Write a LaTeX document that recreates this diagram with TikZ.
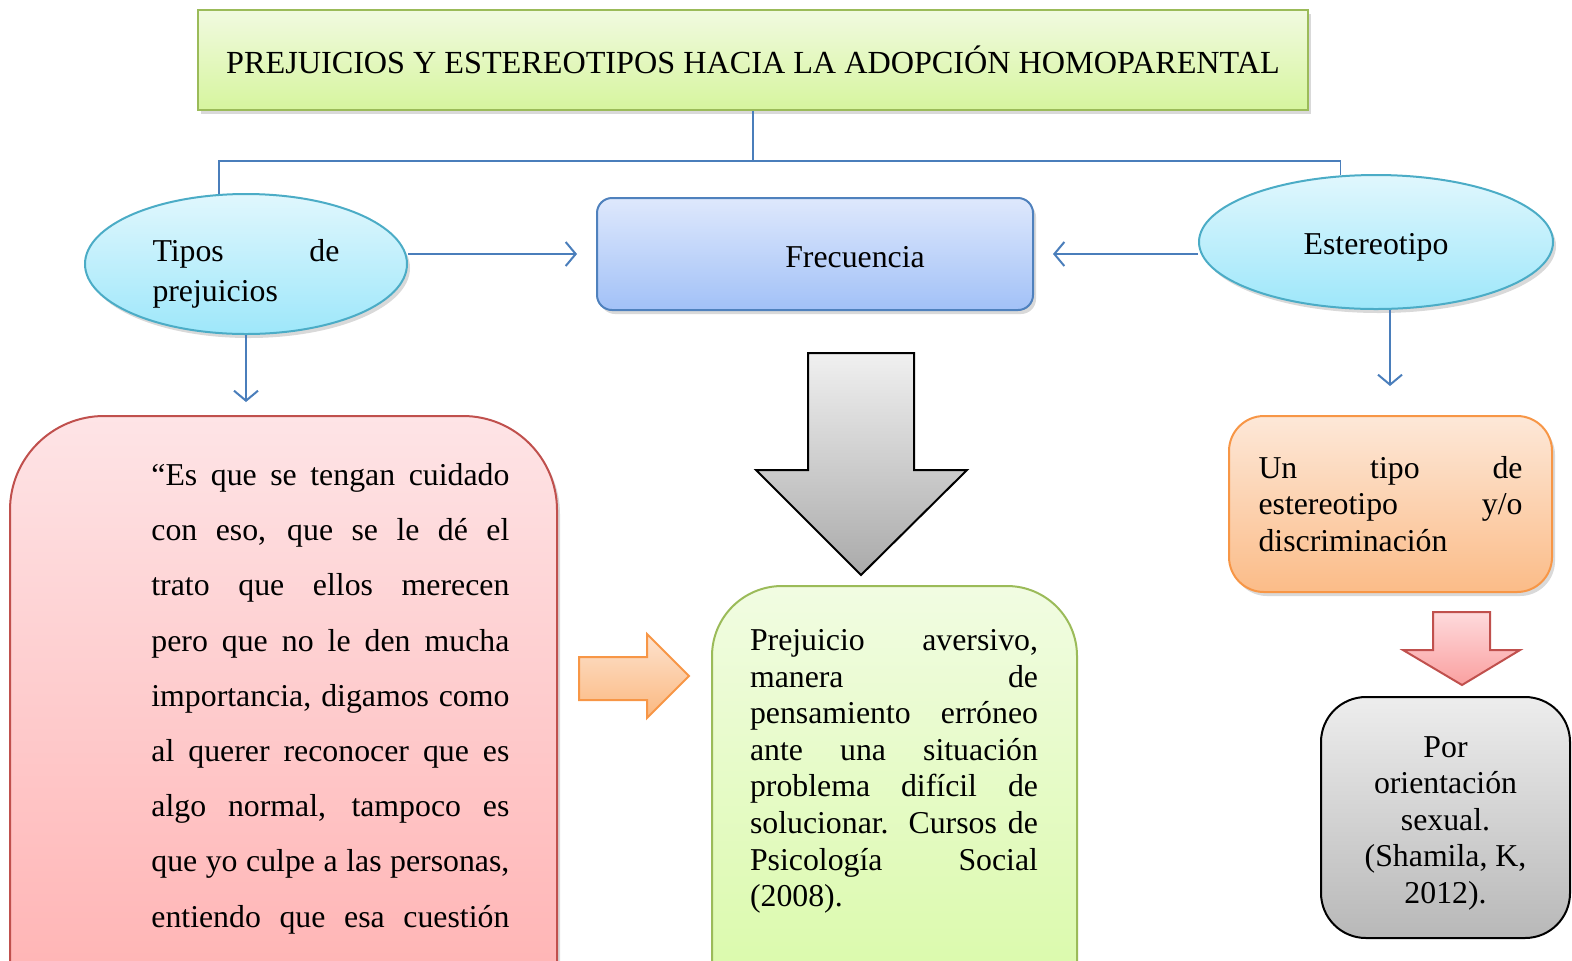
\documentclass[tikz,border=0pt]{standalone}
\usepackage{fontspec}
\setmainfont{Liberation Serif}
\usetikzlibrary{shapes.geometric, arrows.meta, shadows, positioning, calc}

\definecolor{linkblue}{RGB}{74,126,187}
\definecolor{greenedge}{RGB}{155,187,89}
\definecolor{cyanedge}{RGB}{75,172,198}
\definecolor{blueedge}{RGB}{79,129,189}
\definecolor{rededge}{RGB}{192,80,77}
\definecolor{orangeedge}{RGB}{247,150,70}

\def\rbig{47pt}
\def\rmid{35pt}
\def\rsmall{17.5pt}

\begin{document}
\begin{tikzpicture}
    [
        x=0.5pt, y=-0.5pt,
        font=\fontsize{15.9}{18.25}\selectfont,
        sh/.style={drop shadow={shadow xshift=1.5pt, shadow yshift=-2pt, opacity=.3}},
        topbox/.style={draw=greenedge, line width=1pt, top color={rgb,255:red,241;green,250;blue,224}, bottom color={rgb,255:red,214;green,245;blue,158}, minimum width=555pt, minimum height=50pt, sh},
        oval/.style={ellipse, draw=cyanedge, line width=1pt, inner sep=0pt, top color={rgb,255:red,224;green,247;blue,253}, bottom color={rgb,255:red,158;green,231;blue,250}, sh},
        frecbox/.style={draw=blueedge, line width=1pt, rounded corners=7.5pt, top color={rgb,255:red,222;green,232;blue,252}, bottom color={rgb,255:red,162;green,193;blue,247}, minimum width=218pt, minimum height=56pt, sh},
        quotebox/.style={draw=rededge, line width=1pt, rounded corners=\rbig, top color={rgb,255:red,254;green,228;blue,230}, bottom color={rgb,255:red,255;green,170;blue,170}, minimum width=273.5pt, minimum height=342pt, sh},
        notebox/.style={draw=greenedge, line width=1pt, rounded corners=\rmid, top color={rgb,255:red,241;green,252;blue,226}, bottom color={rgb,255:red,214;green,249;blue,160}, minimum width=182.5pt, minimum height=237pt},
        stepbox/.style={draw=orangeedge, line width=1pt, rounded corners=\rsmall, top color={rgb,255:red,253;green,232;blue,216}, bottom color={rgb,255:red,251;green,188;blue,136}, minimum width=161.5pt, minimum height=88pt, text width=132pt, align=justify, inner sep=0pt, sh},
        greybox/.style={draw=black, line width=1pt, rounded corners=22.5pt, top color={rgb,255:red,237;green,237;blue,237}, bottom color={rgb,255:red,184;green,184;blue,184}, minimum width=124.5pt, minimum height=120.5pt, align=center},
        link/.style={linkblue, line width=1pt, -{Straight Barb[length=5pt,width=12pt]}},
        tree/.style={linkblue, line width=0.8pt},
        bigarrow/.style={draw=black, line width=1pt, top color={rgb,255:red,240;green,240;blue,240}, bottom color={rgb,255:red,170;green,170;blue,170}}
    ]
    \useasboundingbox (0,0) rectangle (1572,960);
    \clip (0,0) rectangle (1572,960);

    \node[topbox, font=\fontsize{16.1}{18.25}\selectfont] (title) at (753,60) {PREJUICIOS Y ESTEREOTIPOS HACIA LA ADOPCIÓN HOMOPARENTAL};

    \node[oval, minimum width=161pt, minimum height=70pt, text width=93.5pt, align=justify,
          font=\fontsize{15.9}{20}\selectfont] (tipos) at (246,264) {\rule{0pt}{21pt}Tipos de\linebreak prejuicios};
    \node[oval, minimum width=177pt, minimum height=67pt] (est) at (1376,242) {\rule{0pt}{16pt}Estereotipo};
    \node[frecbox] (frec) at (815,254) {\hspace*{40pt}\rule{0pt}{14pt}Frecuencia};

    % tree from the title
    \draw[tree] (title.south) -- ++(0,50) coordinate (mid);
    \draw[tree] (tipos.111) |- (mid) -| (est.118);

    \draw[link] (tipos.east |- frec.west) -- ([xshift=-9.5pt]frec.west);
    \draw[link] (est.west |- frec.east) -- ([xshift=9.5pt]frec.east);

    \node[quotebox] (quote) at (283.5,758) {};
    \node[anchor=north west, inner sep=0pt, text width=179pt, align=justify,
          font=\fontsize{15.9}{27.6}\selectfont] (quotetxt) at (151,463)
        {“Es que se tengan cuidado\linebreak con eso, que se le dé el\linebreak trato que ellos merecen\linebreak
         pero que no le den mucha\linebreak importancia, digamos como\linebreak al querer reconocer que es\linebreak
         algo normal, tampoco es\linebreak que yo culpe a las personas,\linebreak entiendo que esa cuestión\linebreak};
    \draw[link] (tipos.south) -- ([yshift=6.5pt]tipos.south |- quote.north);

    % central block arrows
    \draw[bigarrow] (808,353) -- (914,353) -- (914,470) -- (967,470) -- (861,575) -- (756,470) -- (808,470) -- cycle;
    \draw[draw=orangeedge, line width=1pt, top color={rgb,255:red,253;green,226;blue,206}, bottom color={rgb,255:red,251;green,184;blue,128}]
        (579,657) -- (647,657) -- (647,634) -- (689,676) -- (647,718) -- (647,700) -- (579,700) -- cycle;

    \node[notebox] (note) at (894.5,823) {};
    \node[anchor=north, inner sep=0pt, text width=144pt, align=justify,
          font=\fontsize{15.9}{18.3}\selectfont] (notetxt) at (894,629)
        {Prejuicio aversivo,\linebreak manera de\linebreak pensamiento erróneo\linebreak ante una situación\linebreak
         problema difícil de\linebreak solucionar. Cursos de\linebreak Psicología Social\linebreak (2008).};

    % right column
    \node[stepbox] (kind) at (1390.5,504) {Un tipo de\linebreak estereotipo y/o\linebreak discriminación};
    \coordinate (estdown) at ([xshift=7pt]est.south);
    \draw[link] (estdown) -- ([yshift=14.5pt]estdown |- kind.north);
    \draw[draw=rededge, line width=1pt, top color={rgb,255:red,254;green,218;blue,220}, bottom color={rgb,255:red,250;green,160;blue,160}]
        (1433,612) -- (1490,612) -- (1490,650) -- (1520,650) -- (1462,685) -- (1403,650) -- (1433,650) -- cycle;
    \node[greybox] (orient) at (1445.5,817.5) {\rule{0pt}{16pt}Por\\orientación\\sexual.\\(Shamila, K,\\2012).};
\end{tikzpicture}
\end{document}
